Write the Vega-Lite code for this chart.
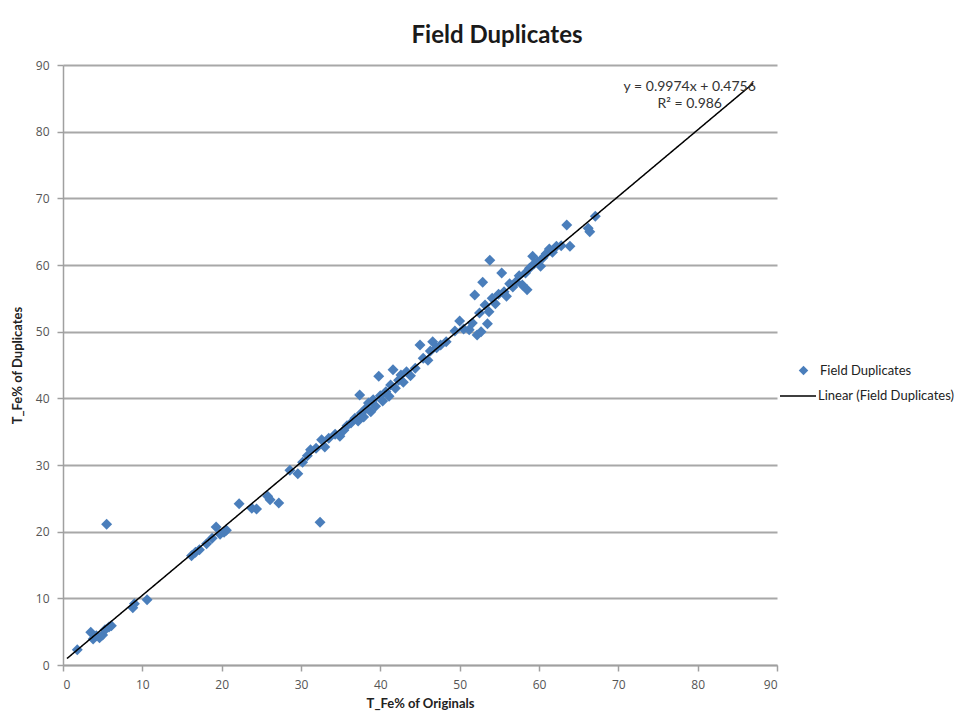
{
  "$schema": "https://vega.github.io/schema/vega-lite/v6.json",
  "autosize": {"type": "none"},
  "width": 714,
  "height": 600,
  "padding": {"left": 63, "top": 65, "right": 195, "bottom": 50},
  "background": "white",
  "title": {
    "text": "Field Duplicates",
    "font": "Lato",
    "fontSize": 24,
    "fontWeight": "bold",
    "color": "#1a1a1a",
    "anchor": "middle",
    "dx": 77,
    "offset": 11
  },
  "datasets": {
    "pts": [
      {"x": 1.8, "y": 2.3}, {"x": 3.5, "y": 4.9}, {"x": 3.8, "y": 3.9}, {"x": 4.2, "y": 4.4}, {"x": 4.6, "y": 4.1},
      {"x": 5.0, "y": 4.5}, {"x": 5.3, "y": 5.3}, {"x": 5.8, "y": 5.7}, {"x": 6.1, "y": 5.9}, {"x": 8.8, "y": 8.6},
      {"x": 9.0, "y": 9.2}, {"x": 10.6, "y": 9.8}, {"x": 5.5, "y": 21.1},
      {"x": 16.2, "y": 16.4}, {"x": 16.7, "y": 16.9}, {"x": 17.2, "y": 17.3}, {"x": 18.1, "y": 18.2}, {"x": 18.8, "y": 19.0},
      {"x": 19.3, "y": 20.7}, {"x": 19.8, "y": 19.6}, {"x": 20.3, "y": 19.9}, {"x": 20.6, "y": 20.2}, {"x": 22.2, "y": 24.2},
      {"x": 23.8, "y": 23.5}, {"x": 24.4, "y": 23.4}, {"x": 25.8, "y": 25.3}, {"x": 26.1, "y": 24.8}, {"x": 27.2, "y": 24.3},
      {"x": 28.6, "y": 29.2}, {"x": 29.6, "y": 28.7}, {"x": 30.2, "y": 30.4}, {"x": 30.8, "y": 31.4}, {"x": 31.2, "y": 32.3},
      {"x": 31.9, "y": 32.5}, {"x": 32.6, "y": 33.8}, {"x": 33.0, "y": 32.7}, {"x": 33.5, "y": 34.0}, {"x": 32.4, "y": 21.4},
      {"x": 34.3, "y": 34.6}, {"x": 34.9, "y": 34.3}, {"x": 35.4, "y": 35.2}, {"x": 35.8, "y": 35.9}, {"x": 36.3, "y": 36.3},
      {"x": 36.8, "y": 37.0}, {"x": 37.2, "y": 36.6}, {"x": 37.4, "y": 40.5}, {"x": 37.6, "y": 37.8}, {"x": 37.9, "y": 37.2},
      {"x": 38.2, "y": 38.5}, {"x": 38.5, "y": 39.3}, {"x": 38.8, "y": 38.0}, {"x": 39.1, "y": 39.8}, {"x": 39.4, "y": 38.8},
      {"x": 39.8, "y": 43.3}, {"x": 40.0, "y": 40.4}, {"x": 40.3, "y": 39.6}, {"x": 40.7, "y": 41.0}, {"x": 41.1, "y": 40.3},
      {"x": 41.3, "y": 42.0}, {"x": 41.6, "y": 44.3}, {"x": 41.9, "y": 41.5}, {"x": 42.3, "y": 42.7}, {"x": 42.6, "y": 43.5},
      {"x": 42.9, "y": 42.4}, {"x": 43.3, "y": 44.0}, {"x": 43.8, "y": 43.4}, {"x": 44.4, "y": 44.5}, {"x": 45.0, "y": 48.0},
      {"x": 45.4, "y": 46.0}, {"x": 46.0, "y": 45.7}, {"x": 46.6, "y": 48.5}, {"x": 46.3, "y": 47.1}, {"x": 47.1, "y": 47.6},
      {"x": 47.6, "y": 48.0}, {"x": 48.3, "y": 48.5},
      {"x": 49.4, "y": 50.1}, {"x": 50.0, "y": 51.6}, {"x": 50.5, "y": 50.4}, {"x": 51.2, "y": 50.3}, {"x": 51.6, "y": 51.3},
      {"x": 51.9, "y": 55.5}, {"x": 52.2, "y": 49.5}, {"x": 52.5, "y": 52.8}, {"x": 52.7, "y": 50.0}, {"x": 52.9, "y": 57.4},
      {"x": 53.2, "y": 54.0}, {"x": 53.5, "y": 51.2}, {"x": 53.7, "y": 53.0}, {"x": 53.8, "y": 60.7}, {"x": 54.1, "y": 55.0},
      {"x": 54.5, "y": 54.2}, {"x": 54.9, "y": 55.6}, {"x": 55.3, "y": 58.8}, {"x": 55.6, "y": 56.0}, {"x": 55.9, "y": 55.3},
      {"x": 56.3, "y": 57.2}, {"x": 56.7, "y": 56.7}, {"x": 57.1, "y": 57.5}, {"x": 57.5, "y": 58.4}, {"x": 57.9, "y": 57.0},
      {"x": 58.3, "y": 58.8}, {"x": 58.5, "y": 56.3}, {"x": 58.8, "y": 59.5}, {"x": 59.2, "y": 61.3}, {"x": 59.4, "y": 60.2},
      {"x": 59.8, "y": 60.5}, {"x": 60.2, "y": 59.8}, {"x": 60.5, "y": 61.1}, {"x": 60.9, "y": 61.7}, {"x": 61.3, "y": 62.4},
      {"x": 61.7, "y": 61.9}, {"x": 62.2, "y": 62.8}, {"x": 62.8, "y": 62.9}, {"x": 63.5, "y": 66.0}, {"x": 63.9, "y": 62.8},
      {"x": 66.2, "y": 65.5}, {"x": 66.4, "y": 65.0}, {"x": 67.1, "y": 67.3}
    ],
    "trend": [
      {"x": 0.5, "y": 0.97},
      {"x": 87.0, "y": 87.25}
    ],
    "notes": [
      {"x": 79.0, "y": 86.7, "label": "y = 0.9974x + 0.4756"},
      {"x": 79.0, "y": 84.15, "label": "R² = 0.986"}
    ]
  },
  "encoding": {
    "x": {
      "field": "x", "type": "quantitative",
      "scale": {"domain": [0, 90], "nice": false, "zero": true},
      "axis": {"values": [0,10,20,30,40,50,60,70,80,90], "title": "T_Fe% of Originals", "grid": false}
    },
    "y": {
      "field": "y", "type": "quantitative",
      "scale": {"domain": [0, 90], "nice": false},
      "axis": {"values": [0,10,20,30,40,50,60,70,80,90], "title": "T_Fe% of Duplicates", "grid": true}
    }
  },
  "layer": [
    {
      "data": {"name": "pts"},
      "transform": [{"calculate": "'Field Duplicates'", "as": "series"}],
      "mark": {"type": "point", "filled": true, "opacity": 1, "size": 120, "shape": "diamond"},
      "encoding": {
        "color": {
          "field": "series", "type": "nominal",
          "scale": {"domain": ["Field Duplicates"], "range": ["#4a7ebb"]},
          "legend": {"title": null, "orient": "none", "legendX": 734, "legendY": 299, "symbolSize": 90, "symbolType": "diamond", "labelOffset": 10}
        }
      }
    },
    {
      "data": {"name": "trend"},
      "transform": [{"calculate": "'Linear (Field Duplicates)'", "as": "series"}],
      "mark": {"type": "line", "strokeWidth": 1.5, "color": "#000000"},
      "encoding": {
        "strokeDash": {
          "field": "series", "type": "nominal",
          "scale": {"domain": ["Linear (Field Duplicates)"], "range": [[1, 0]]},
          "legend": {"title": null, "orient": "none", "legendX": 716, "legendY": 312, "symbolSize": 1300, "symbolType": "stroke", "symbolStrokeColor": "#000000", "symbolStrokeWidth": 1.5, "labelOffset": 1}
        }
      }
    },
    {
      "data": {"name": "notes"},
      "mark": {"type": "text", "font": "Lato", "fontSize": 14, "color": "#333333", "align": "center", "baseline": "middle"},
      "encoding": {
        "text": {"field": "label"}
      }
    }
  ],
  "resolve": {"legend": {"color": "independent", "strokeDash": "independent"}},
  "config": {
    "view": {"stroke": null},
    "axis": {
      "labelFont": "Open Sans",
      "labelFontSize": 12,
      "labelColor": "#555555",
      "titleFont": "Lato",
      "titleFontSize": 13,
      "titleFontWeight": "bold",
      "titleColor": "#222222",
      "domainColor": "#a0a0a0",
      "domainWidth": 1.5,
      "tickColor": "#a0a0a0",
      "tickWidth": 1.5,
      "tickSize": 6,
      "gridColor": "#a8a8a8",
      "gridWidth": 2
    },
    "axisX": {"titlePadding": 7, "labelPadding": 8},
    "axisY": {"titlePadding": 11, "labelPadding": 8},
    "legend": {
      "labelFont": "Lato",
      "labelFontSize": 13,
      "labelColor": "#222222"
    }
  }
}
